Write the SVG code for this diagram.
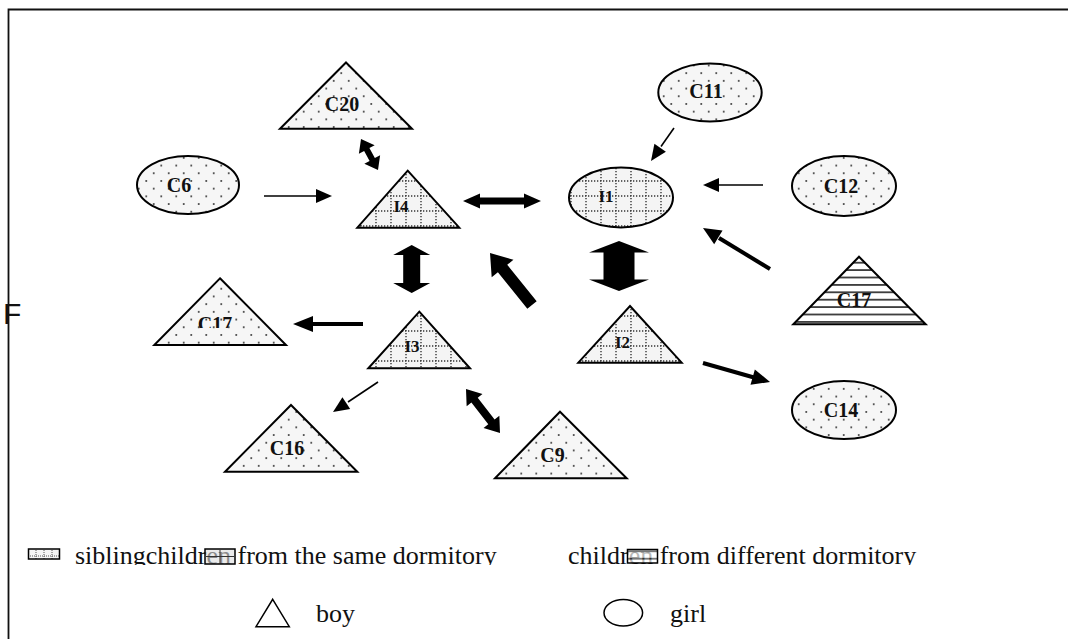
<svg xmlns="http://www.w3.org/2000/svg" width="1068" height="639" viewBox="0 0 1068 639">
<defs>
<style>
.node{stroke:#000;stroke-width:2}
.lbl{font-family:"Liberation Serif","Times New Roman",serif;font-weight:bold;font-size:20px;text-anchor:middle;fill:#111}
.ilbl{font-size:17px}
.leg{font-family:"Liberation Serif","Times New Roman",serif;font-size:26px;fill:#111}
.thin{stroke:#000;stroke-width:1.6;fill:none}
.med{stroke:#000;stroke-width:4;fill:none}
.fillb{fill:#000}
</style>
<pattern id="dots" width="15" height="15.4" patternUnits="userSpaceOnUse">
<rect width="15" height="15.4" fill="#f6f6f6"/>
<circle cx="3.75" cy="3.85" r="1.05" fill="#444"/>
<circle cx="11.25" cy="11.55" r="1.05" fill="#444"/>
</pattern>
<pattern id="grid" width="15" height="15" patternUnits="userSpaceOnUse">
<rect width="15" height="15" fill="#f4f4f4"/>
<path d="M0,1H15M1,0V15" stroke="#333" stroke-width="1.4" stroke-dasharray="1.3 1.7"/>
</pattern>
<pattern id="stripes" width="10" height="7.4" patternUnits="userSpaceOnUse">
<rect width="10" height="7.4" fill="#fff"/>
<line x1="0" y1="3.7" x2="10" y2="3.7" stroke="#000" stroke-width="1.4"/>
</pattern>
<pattern id="smallgrid" width="8" height="8" patternUnits="userSpaceOnUse">
<rect width="8" height="8" fill="#f4f4f4"/>
<path d="M0,4H8M4,0V8" stroke="#555" stroke-width="1" stroke-dasharray="1 1"/>
</pattern>
<clipPath id="clipC17"><rect x="150" y="270" width="140" height="58"/></clipPath>
<clipPath id="clipLeg"><rect x="0" y="530" width="1068" height="35"/></clipPath>
</defs>
<rect width="1068" height="639" fill="#fff"/>
<path d="M8.5,639V9.5H1068" fill="none" stroke="#111" stroke-width="1.8"/>
<text x="3" y="324" font-family="Liberation Sans, Arial, sans-serif" font-size="30" fill="#111">F</text>

<g id="C20"><polygon class="node" fill="url(#dots)" points="346,62.5 412,128.7 280,128.7"/><text class="lbl" x="342" y="111">C20</text></g>
<g id="C6"><ellipse class="node" fill="url(#dots)" cx="188" cy="185" rx="51" ry="29"/><text class="lbl" x="179" y="192">C6</text></g>
<g id="I4"><polygon class="node" fill="url(#grid)" points="407.7,170.7 459.3,227.7 357.3,227.7"/><text class="lbl ilbl" x="401" y="212">I4</text></g>
<g id="I1"><ellipse class="node" fill="url(#grid)" cx="621" cy="197.5" rx="52" ry="30"/><text class="lbl ilbl" x="606" y="202">I1</text></g>
<g id="C11"><ellipse class="node" fill="url(#dots)" cx="710" cy="92.5" rx="51.7" ry="29"/><text class="lbl" x="706" y="98">C11</text></g>
<g id="C12"><ellipse class="node" fill="url(#dots)" cx="844" cy="186" rx="52" ry="30"/><text class="lbl" x="841" y="193">C12</text></g>
<g id="C17R"><polygon class="node" fill="url(#stripes)" points="859,256.7 925.7,324.3 793.3,324.3"/><text class="lbl" x="854" y="307">C17</text></g>
<g id="C14"><ellipse class="node" fill="url(#dots)" cx="844" cy="410" rx="52" ry="29"/><text class="lbl" x="841" y="417">C14</text></g>
<g id="I2"><polygon class="node" fill="url(#grid)" points="630,306 681.7,362.7 578.3,362.7"/><text class="lbl ilbl" x="622.5" y="348">I2</text></g>
<g id="I3"><polygon class="node" fill="url(#grid)" points="419.3,311.7 470,368.3 368.3,368.3"/><text class="lbl ilbl" x="412" y="352">I3</text></g>
<g id="C17L"><polygon class="node" fill="url(#dots)" points="220,278.3 286,345 154.3,345"/><text class="lbl" x="215" y="331" clip-path="url(#clipC17)">C17</text></g>
<g id="C16"><polygon class="node" fill="url(#dots)" points="291,405 357.3,471.7 225,471.7"/><text class="lbl" x="287" y="455">C16</text></g>
<g id="C9"><polygon class="node" fill="url(#dots)" points="560,411.7 626.7,478.3 495,478.3"/><text class="lbl" x="552.5" y="462">C9</text></g>

<g id="connectors">
<line class="thin" x1="264" y1="196" x2="318" y2="196"/><polygon class="fillb" points="332,196 316,189 316,203"/>
<line class="thin" x1="763" y1="185" x2="717" y2="185"/><polygon class="fillb" points="703,185 719,178 719,192"/>
<line class="thin" x1="674" y1="128" x2="661" y2="146.5"/><polygon class="fillb" points="651,161 654.41,143.87 665.89,151.87"/>
<line class="thin" x1="378" y1="382" x2="348" y2="402"/><polygon class="fillb" points="333,412 342.43,397.3 350.19,408.94"/>
<line class="med" x1="770" y1="269" x2="719" y2="238"/><polygon class="fillb" points="703,228 722.53,230.58 714.17,244.22"/>
<line class="med" x1="703" y1="363" x2="754" y2="377.5"/><polygon class="fillb" points="770,382 750.5,384.79 754.86,369.39"/>
<line class="med" x1="363" y1="324" x2="311" y2="324" stroke-width="4.5"/><polygon class="fillb" points="293,324 313,316 313,332"/>
<polygon class="fillb" points="463,201 480,193.5 480,197.5 524,197.5 524,193.5 541,201 524,208.5 524,204.5 480,204.5 480,208.5"/>
<polygon class="fillb" points="411.7,245 430.2,255 420.2,255 420.2,283 430.2,283 411.7,293 393.2,283 403.2,283 403.2,255 393.2,255"/>
<polygon class="fillb" points="619,241 649,252.5 634.5,252.5 634.5,279.5 649,279.5 619,291 589,279.5 603.5,279.5 603.5,252.5 589,252.5"/>
<polygon class="fillb" points="536.67,301.23 507.24,264.79 513.46,259.76 490,253 491.68,277.36 497.9,272.33 527.33,308.77"/>
<polygon class="fillb" points="466,389 466.65,406.2 471.39,402.53 488.27,424.37 483.53,428.04 500,433 499.35,415.8 494.61,419.47 477.73,397.63 482.47,393.96"/>
<polygon class="fillb" points="361,139 358.88,153.85 364.14,150.96 369.6,160.92 364.34,163.81 378,170 380.12,155.15 374.86,158.04 369.4,148.08 374.66,145.19"/>
</g>

<g id="legend">
<g clip-path="url(#clipLeg)">
<rect x="28.5" y="549" width="31" height="10" fill="url(#smallgrid)" stroke="#000" stroke-width="1.5"/>
<text class="leg" x="75" y="564">siblingchildren from the same dormitory</text>
<rect x="205" y="549" width="30" height="15" fill="#ddd" fill-opacity="0.6" stroke="#000" stroke-width="1.5"/>
<path d="M206,556.5H234M220,550V563" stroke="#333" stroke-width="1"/>
<text class="leg" x="568" y="564">children from different dormitory</text>
<rect x="627.5" y="549.5" width="30" height="13.5" fill="url(#stripes)" fill-opacity="0.7" stroke="#000" stroke-width="1.5"/>
</g>
<polygon points="272.7,599.3 289.3,626.7 256,626.7" fill="none" stroke="#000" stroke-width="1.5"/>
<text class="leg" x="316" y="622">boy</text>
<ellipse cx="623.3" cy="612.7" rx="19.3" ry="13.3" fill="none" stroke="#000" stroke-width="1.5"/>
<text class="leg" x="670" y="622">girl</text>
</g>
</svg>
